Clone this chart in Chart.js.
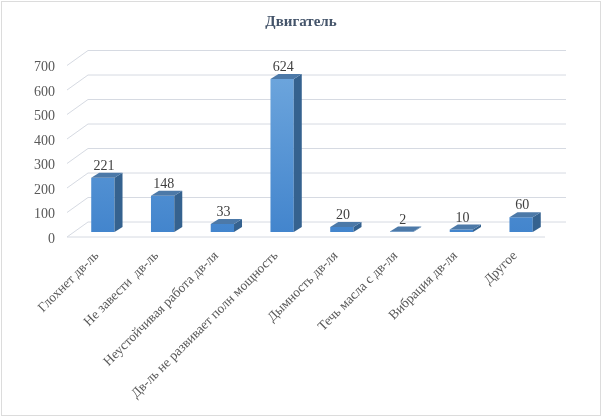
<!DOCTYPE html>
<html lang="ru">
<head>
  <meta charset="UTF-8" />
  <title>Двигатель</title>
  <script src="https://cdn.jsdelivr.net/npm/chart.js"></script>
  <style>
    html, body { margin: 0; padding: 0; background: #fff; }
    #chart { display: block; }
  </style>
</head>
<body>
  <canvas id="chart" width="602" height="418"></canvas>

  <script>
    // data
    const categories = [
      "Глохнет дв-ль",
      "Не завести  дв-ль",
      "Неустойчивая работа дв-ля",
      "Дв-ль не развивает полн мощность",
      "Дымность дв-ля",
      "Течь масла с дв-ля",
      "Вибрация дв-ля",
      "Другое"
    ];
    const counts = [221, 148, 33, 624, 20, 2, 10, 60];
    const yMax = 700;
    const yStep = 100;

    // depth of the 3D look
    const barDepth = { x: 8, y: -5 };
    const wallShift = { x: 15, y: -10 };   // back wall from the bar front
    const floorShift = { x: -6, y: 5 };    // front floor edge from the bar front

    // frame, grid and 3D faces of the bars
    const depthPlugin = {
      id: "depth",
      beforeDraw(chart) {
        const c = chart.ctx;
        c.save();
        c.fillStyle = "#fff";
        c.fillRect(0, 0, chart.width, chart.height);
        c.strokeStyle = "#dcdcdc";
        c.lineWidth = 1;
        c.strokeRect(1.5, 1.5, chart.width - 3, chart.height - 4);
        c.restore();
      },
      beforeDatasetsDraw(chart) {
        const c = chart.ctx;
        const area = chart.chartArea;
        const y = chart.scales.y;
        c.save();
        c.strokeStyle = "#d6dae2";
        c.lineWidth = 1;
        y.ticks.forEach(t => {
          const py = y.getPixelForValue(t.value);
          c.beginPath();
          c.moveTo(area.left + floorShift.x, py + floorShift.y);
          c.lineTo(area.left + wallShift.x, py + wallShift.y);
          c.lineTo(area.right + wallShift.x, py + wallShift.y);
          c.stroke();
        });
        const p0 = y.getPixelForValue(0);
        c.beginPath();
        c.moveTo(area.left + floorShift.x, p0 + floorShift.y);
        c.lineTo(area.right + floorShift.x, p0 + floorShift.y);
        c.stroke();
        c.restore();
      },
      afterDatasetsDraw(chart) {
        const c = chart.ctx;
        const meta = chart.getDatasetMeta(0);
        c.save();
        meta.data.forEach((bar, i) => {
          const l = bar.x - bar.width / 2;
          const r = bar.x + bar.width / 2;
          const top = bar.y;
          const bottom = bar.base;
          // side face
          c.fillStyle = "#35628f";
          c.beginPath();
          c.moveTo(r, top);
          c.lineTo(r + barDepth.x, top + barDepth.y);
          c.lineTo(r + barDepth.x, bottom + barDepth.y);
          c.lineTo(r, bottom);
          c.closePath();
          c.fill();
          // top face
          c.fillStyle = "#4c79a8";
          c.beginPath();
          c.moveTo(l, top);
          c.lineTo(l + barDepth.x, top + barDepth.y);
          c.lineTo(r + barDepth.x, top + barDepth.y);
          c.lineTo(r, top);
          c.closePath();
          c.fill();
          // value
          c.fillStyle = "#404040";
          c.font = "14px 'Liberation Serif', 'Times New Roman', serif";
          c.textAlign = "center";
          c.textBaseline = "alphabetic";
          c.fillText(String(counts[i]), bar.x + 1, top - 8);
        });
        c.restore();
      }
    };

    function frontFill(context) {
      const chart = context.chart;
      const area = chart.chartArea;
      if (!area) return "#5b9bd5";
      const g = chart.ctx.createLinearGradient(0, area.top, 0, area.bottom);
      g.addColorStop(0, "#70a8de");
      g.addColorStop(1, "#4385cd");
      return g;
    }

    new Chart(document.getElementById("chart"), {
      type: "bar",
      data: {
        labels: categories,
        datasets: [{
          label: "Двигатель",
          data: counts,
          backgroundColor: frontFill,
          borderWidth: 0,
          categoryPercentage: 1,
          barPercentage: 0.39
        }]
      },
      options: {
        responsive: false,
        animation: false,
        devicePixelRatio: 1,
        layout: { padding: 0 },
        plugins: {
          legend: { display: false },
          tooltip: { enabled: false },
          title: {
            display: true,
            text: "Двигатель",
            color: "#44546a",
            font: { family: "'Liberation Serif', 'Times New Roman', serif", size: 15, weight: "bold", lineHeight: 1.2 },
            padding: { top: 13, bottom: 29.5 }
          }
        },
        scales: {
          x: {
            grid: { display: false, drawTicks: false },
            border: { display: false },
            afterFit(scale) { scale.height = 186; },
            ticks: {
              autoSkip: false,
              minRotation: 45,
              maxRotation: 45,
              padding: 16,
              labelOffset: -6,
              color: "#595959",
              font: { family: "'Liberation Serif', 'Times New Roman', serif", size: 13.5 }
            }
          },
          y: {
            min: 0,
            max: yMax,
            grid: { display: false, drawTicks: false },
            border: { display: false },
            afterFit(scale) { scale.width = 73; },
            ticks: {
              stepSize: yStep,
              padding: 18,
              labelOffset: 7,
              color: "#595959",
              font: { family: "'Liberation Serif', 'Times New Roman', serif", size: 14 }
            }
          },
          // empty right margin so the title stays centred on the whole chart
          yRight: {
            type: "linear",
            axis: "y",
            position: "right",
            grid: { display: false, drawTicks: false },
            border: { display: false },
            ticks: { display: false },
            afterFit(scale) { scale.width = 51; }
          }
        }
      },
      plugins: [depthPlugin]
    });
  </script>
</body>
</html>
